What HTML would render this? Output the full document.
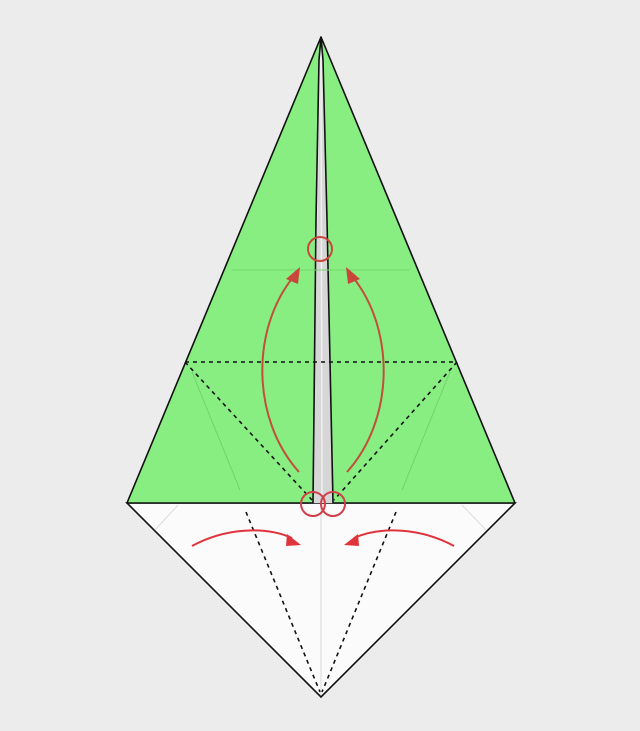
<!DOCTYPE html>
<html><head><meta charset="utf-8"><style>
html,body{margin:0;padding:0;background:#ececec;}
svg{display:block;}
</style></head><body>
<svg width="640" height="731" viewBox="0 0 640 731">
  <rect width="640" height="731" fill="#ececec"/>
  <polygon points="127,503 515,503 321,697" fill="#fbfbfb" stroke="#111" stroke-width="1.6"/>
  <line x1="321" y1="505" x2="321" y2="695" stroke="#d8d8d8" stroke-width="1"/>
  <line x1="178" y1="505" x2="155" y2="530" stroke="#ddd" stroke-width="1"/>
  <line x1="462" y1="505" x2="486" y2="530" stroke="#ddd" stroke-width="1"/>
  <polygon points="321,37 312,503 334,503" fill="#d6d6d6"/>
  <line x1="321" y1="40" x2="322" y2="503" stroke="#f0f0f0" stroke-width="1.5"/>
  <polygon points="321,37 127,503 313,503 316,220 319,60" fill="#88ee82" stroke="#111" stroke-width="1.6" stroke-linejoin="round"/>
  <polygon points="321,37 515,503 333,503 327,220 323,60" fill="#88ee82" stroke="#111" stroke-width="1.6" stroke-linejoin="round"/>
  <line x1="232" y1="270" x2="410" y2="270" stroke="#76d670" stroke-width="1"/>
  <line x1="192" y1="372" x2="240" y2="490" stroke="#74d26e" stroke-width="1"/>
  <line x1="450" y1="372" x2="402" y2="490" stroke="#74d26e" stroke-width="1"/>
  <g stroke="#111" stroke-width="1.6" stroke-dasharray="4,4" fill="none">
    <line x1="185" y1="362" x2="457" y2="362"/>
    <line x1="185" y1="362" x2="312" y2="500"/>
    <line x1="457" y1="362" x2="334" y2="500"/>
    <line x1="246" y1="512" x2="320" y2="692"/>
    <line x1="396" y1="512" x2="322" y2="692"/>
  </g>
  <g stroke="#c0503a" stroke-width="2" fill="none">
    <path d="M299,472 C252,420 250,330 294,276"/>
    <path d="M347,472 C394,420 396,330 352,276"/>
    <path d="M192,546 C225,528 265,526 292,538" stroke="#e0343c"/>
    <path d="M454,546 C421,528 381,526 354,538" stroke="#e0343c"/>
    <circle cx="320" cy="249" r="12" stroke="#c8463a"/>
    <circle cx="313" cy="504" r="12" stroke="#d0404a"/>
    <circle cx="333" cy="504" r="12" stroke="#d0404a"/>
  </g>
  <polygon points="300,267 286,279 298,284" fill="#c8463a"/>
  <polygon points="346,267 360,279 348,284" fill="#c8463a"/>
  <polygon points="301,545 287,534 286,546" fill="#e0343c"/>
  <polygon points="344,545 358,534 359,546" fill="#e0343c"/>
</svg>
</body></html>
